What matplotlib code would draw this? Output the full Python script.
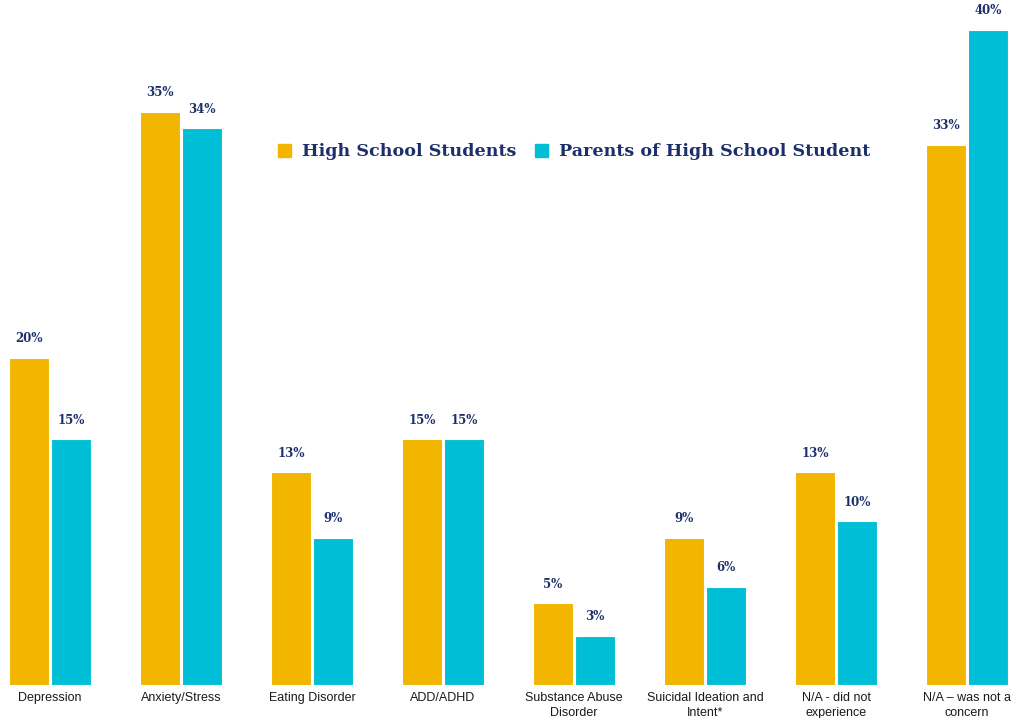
import numpy as np
import matplotlib.pyplot as plt
from matplotlib.patches import Patch

categories = ['Depression', 'Anxiety/Stress', 'Eating Disorder', 'ADD/ADHD',
              'Substance Abuse\nDisorder', 'Suicidal Ideation and\nIntent*',
              'N/A - did not\nexperience', 'N/A \u2013 was not a\nconcern']
students = [20, 35, 13, 15, 5, 9, 13, 33]
parents = [15, 34, 9, 15, 3, 6, 10, 40]
series_names = ['High School Students', 'Parents of High School Student']

orange = '#F2B500'
teal = '#00BED6'
navy = '#1C2F6B'

fig = plt.figure(figsize=(10.13, 7.18), dpi=100)
ax = fig.add_axes([0, 1 - 685 / 718, 1, 685 / 718])

x = np.arange(len(categories))
w = 0.305
off = 0.16
b1 = ax.bar(x - off, students, w, color=orange, edgecolor='white', linewidth=0.8)
b2 = ax.bar(x + off, parents, w, color=teal, edgecolor='white', linewidth=0.8)

for bars, vals in ((b1, students), (b2, parents)):
    for rect, v in zip(bars, vals):
        ax.annotate(f'{v}%', (rect.get_x() + rect.get_width() / 2, v),
                    xytext=(0, 9), textcoords='offset points', ha='center', va='bottom',
                    fontsize=8.5, fontweight='bold', color=navy, family='DejaVu Serif')

ax.set_xlim(-50 / 131, 963 / 131)
ax.set_ylim(0, 685 / 16.375)
ax.set_xticks(x)
ax.set_xticklabels(categories, fontsize=9, family='Liberation Sans', color='#1a1a1a',
                   linespacing=1.3)
ax.tick_params(axis='x', length=0, pad=5)
ax.set_yticks([])
for s in ax.spines.values():
    s.set_visible(False)

handles = [Patch(color=orange), Patch(color=teal)]
leg = ax.legend(handles, series_names, loc='center', bbox_to_anchor=(574 / 1013, (685 - 152) / 685),
                ncol=2, frameon=False, handlelength=0.75, handleheight=0.75, handletextpad=0.6,
                columnspacing=1.1, prop={'family': 'DejaVu Serif', 'weight': 'bold', 'size': 12.6})
for t in leg.get_texts():
    t.set_color(navy)

fig.savefig('out.png', dpi=100)
